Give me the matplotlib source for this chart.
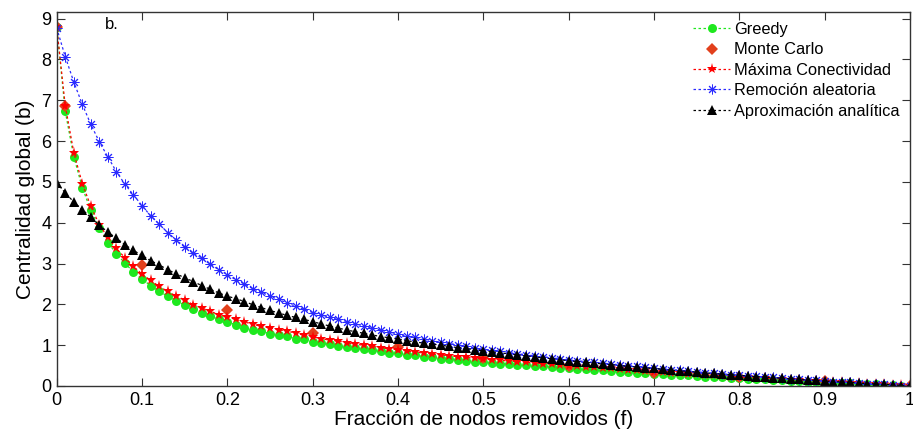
import numpy as np
import matplotlib
matplotlib.use("Agg")
import matplotlib.pyplot as plt

plt.rcParams['font.family'] = ['Liberation Sans', 'DejaVu Sans']

f = [round(i * 0.01, 2) for i in range(101)]

greedy = [8.80, 6.73, 5.62, 4.86, 4.30, 3.88, 3.51, 3.24, 3.01, 2.79,
          2.62, 2.46, 2.32, 2.20, 2.09, 1.98, 1.88, 1.79, 1.71, 1.63,
          1.57, 1.50, 1.42, 1.38, 1.34, 1.28, 1.26, 1.22, 1.16, 1.14,
          1.08, 1.05, 1.02, 0.99, 0.96, 0.92, 0.90, 0.88, 0.85, 0.82,
          0.80, 0.77, 0.75, 0.72, 0.70, 0.67, 0.66, 0.64, 0.62, 0.60,
          0.58, 0.57, 0.55, 0.54, 0.52, 0.51, 0.49, 0.48, 0.46, 0.45,
          0.43, 0.42, 0.41, 0.39, 0.38, 0.37, 0.35, 0.34, 0.33, 0.31,
          0.30, 0.29, 0.28, 0.27, 0.26, 0.25, 0.23, 0.22, 0.21, 0.20,
          0.19, 0.18, 0.17, 0.16, 0.15, 0.14, 0.13, 0.12, 0.11, 0.10,
          0.09, 0.085, 0.08, 0.07, 0.06, 0.05, 0.04, 0.03, 0.02, 0.01,
          0.00]

max_conect = [8.80, 6.87, 5.72, 4.96, 4.40, 3.95, 3.64, 3.37, 3.14, 2.93,
              2.74, 2.59, 2.44, 2.32, 2.20, 2.11, 1.99, 1.91, 1.83, 1.75,
              1.69, 1.63, 1.57, 1.51, 1.46, 1.42, 1.38, 1.34, 1.30, 1.24,
              1.20, 1.16, 1.12, 1.10, 1.06, 1.02, 1.00, 0.97, 0.94, 0.91,
              0.89, 0.86, 0.83, 0.81, 0.78, 0.76, 0.74, 0.72, 0.70, 0.68,
              0.66, 0.64, 0.63, 0.61, 0.60, 0.58, 0.56, 0.55, 0.53, 0.52,
              0.50, 0.49, 0.47, 0.46, 0.44, 0.43, 0.41, 0.40, 0.38, 0.37,
              0.35, 0.34, 0.33, 0.31, 0.30, 0.29, 0.27, 0.26, 0.25, 0.23,
              0.22, 0.21, 0.20, 0.19, 0.18, 0.17, 0.15, 0.14, 0.13, 0.12,
              0.11, 0.10, 0.09, 0.08, 0.07, 0.06, 0.05, 0.04, 0.03, 0.02,
              0.00]

aleatoria = [8.77, 8.07, 7.45, 6.90, 6.41, 5.98, 5.61, 5.25, 4.94, 4.68,
             4.42, 4.17, 3.97, 3.76, 3.58, 3.40, 3.25, 3.13, 2.98, 2.85,
             2.73, 2.60, 2.50, 2.38, 2.30, 2.20, 2.12, 2.04, 1.95, 1.88,
             1.80, 1.74, 1.68, 1.63, 1.58, 1.52, 1.47, 1.42, 1.37, 1.32,
             1.27, 1.22, 1.19, 1.15, 1.11, 1.07, 1.04, 1.01, 0.97, 0.93,
             0.90, 0.87, 0.85, 0.82, 0.79, 0.77, 0.74, 0.72, 0.69, 0.67,
             0.64, 0.62, 0.60, 0.58, 0.56, 0.54, 0.52, 0.50, 0.48, 0.46,
             0.44, 0.42, 0.40, 0.39, 0.37, 0.35, 0.33, 0.32, 0.30, 0.28,
             0.27, 0.25, 0.24, 0.22, 0.21, 0.19, 0.18, 0.16, 0.15, 0.14,
             0.13, 0.11, 0.10, 0.09, 0.08, 0.06, 0.05, 0.04, 0.03, 0.01,
             0.00]

analitica = [4.98, 4.73, 4.51, 4.32, 4.13, 3.94, 3.77, 3.62, 3.46, 3.32,
             3.20, 3.07, 2.97, 2.85, 2.75, 2.65, 2.56, 2.46, 2.37, 2.28,
             2.20, 2.14, 2.07, 1.99, 1.92, 1.85, 1.79, 1.73, 1.68, 1.63,
             1.58, 1.52, 1.47, 1.42, 1.37, 1.33, 1.29, 1.25, 1.21, 1.18,
             1.15, 1.11, 1.08, 1.05, 1.03, 1.00, 0.97, 0.94, 0.92, 0.89,
             0.86, 0.84, 0.81, 0.79, 0.76, 0.74, 0.71, 0.69, 0.67, 0.64,
             0.62, 0.60, 0.58, 0.56, 0.54, 0.52, 0.50, 0.48, 0.46, 0.44,
             0.43, 0.41, 0.39, 0.37, 0.36, 0.34, 0.32, 0.31, 0.29, 0.28,
             0.26, 0.25, 0.23, 0.22, 0.20, 0.19, 0.18, 0.16, 0.15, 0.14,
             0.12, 0.11, 0.10, 0.09, 0.07, 0.06, 0.05, 0.04, 0.03, 0.01,
             0.00]

mc_f = [0.0, 0.01, 0.1, 0.2, 0.3, 0.4, 0.5, 0.6, 0.7, 0.8, 0.9, 1.0]
monte_carlo = [8.80, 6.85, 2.96, 1.87, 1.31, 0.96, 0.68, 0.49, 0.33, 0.21, 0.12, 0.0]

xticks = [0, 0.1, 0.2, 0.3, 0.4, 0.5, 0.6, 0.7, 0.8, 0.9, 1]
xtick_labels = ["0", "0.1", "0.2", "0.3", "0.4", "0.5", "0.6", "0.7", "0.8", "0.9", "1"]
yticks = [0, 1, 2, 3, 4, 5, 6, 7, 8, 9]

fig = plt.figure(figsize=(9.13, 4.29), dpi=100)
ax = fig.add_axes([56.7 / 913, (429 - 386) / 429, (910 - 56.7) / 913, (386 - 11.7) / 429])

dot = (0, (2, 2))
asterisk = (8, 2, 0)

ax.plot(f, greedy, color='#1ee81e', linestyle=dot, linewidth=0.9, marker='o',
        markersize=6.5, markeredgewidth=0, label='Greedy')
ax.plot(mc_f, monte_carlo, color='#e2401c', linestyle='none', marker='D',
        markersize=6.5, markeredgewidth=0, label='Monte Carlo')
ax.plot(f, max_conect, color='#ff0000', linestyle=dot, linewidth=0.9, marker='*',
        markersize=8, markeredgewidth=0, label='Máxima Conectividad')
ax.plot(f, aleatoria, color='#2a2aff', linestyle=dot, linewidth=0.9, marker=asterisk,
        markersize=7, markeredgewidth=0.7, label='Remoción aleatoria')
ax.plot(f, analitica, color='#000000', linestyle=dot, linewidth=0.9, marker='^',
        markersize=7, markeredgewidth=0, label='Aproximación analítica')

ax.set_xlim(0, 1)
ax.set_ylim(0, 9.17)
ax.set_xticks(xticks)
ax.set_xticklabels(xtick_labels)
ax.set_yticks(yticks)
ax.tick_params(direction='in', length=6, width=0.8, top=True, right=True,
               labelsize=13, pad=4, colors='#333333', labelcolor='black')
for s in ax.spines.values():
    s.set_color('#333333')
    s.set_linewidth(1.0)

ax.set_xlabel('Fracción de nodos removidos (f)', fontsize=15, labelpad=1)
ax.set_ylabel('Centralidad global (b)', fontsize=15, labelpad=4)

ax.text(0.057, 8.85, 'b.', fontsize=12, ha='left', va='center')

leg = ax.legend(loc='upper right', frameon=False, fontsize=11.8, handlelength=2.3,
                handletextpad=0.2, labelspacing=0.33, borderaxespad=0.0,
                bbox_to_anchor=(0.995, 0.99))

fig.savefig('out.png', dpi=100)
